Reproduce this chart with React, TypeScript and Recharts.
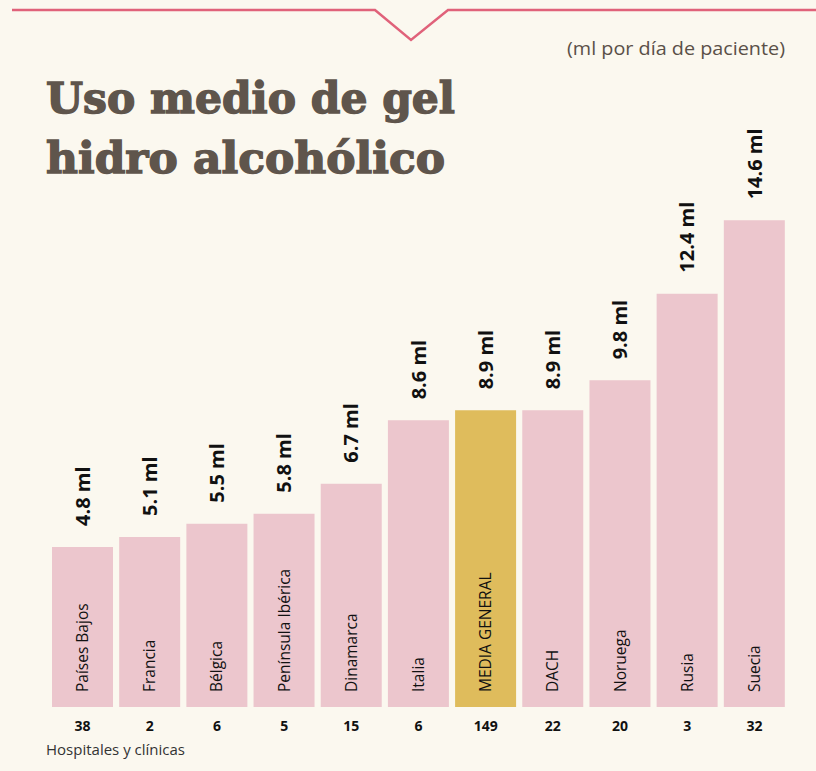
import { Bar, BarChart, Cell, LabelList, XAxis, YAxis } from "recharts";

const regions = [
  "Países Bajos",
  "Francia",
  "Bélgica",
  "Península Ibérica",
  "Dinamarca",
  "Italia",
  "MEDIA GENERAL",
  "DACH",
  "Noruega",
  "Rusia",
  "Suecia",
];
const gelMl = [4.8, 5.1, 5.5, 5.8, 6.7, 8.6, 8.9, 8.9, 9.8, 12.4, 14.6];
const hospitals = [38, 2, 6, 5, 15, 6, 149, 22, 20, 3, 32];
const highlight = "MEDIA GENERAL";

const data = regions.map((region, i) => ({
  region,
  value: gelMl[i],
  hospitals: hospitals[i],
}));

const BG = "#fbf8ef";
const PINK = "#ecc6cd";
const GOLD = "#dfbc5c";
const SANS = "'Open Sans', 'Noto Sans', sans-serif";

function ValueLabel(props: any) {
  const { x, y, width, value } = props;
  const cx = x + width / 2;
  const ty = y - 21;
  return (
    <text
      x={cx}
      y={ty}
      transform={`rotate(-90 ${cx} ${ty})`}
      textAnchor="start"
      dy="0.36em"
      fontFamily={SANS}
      fontWeight={700}
      fontSize={20}
      fill="#111"
    >
      {`${value} ml`}
    </text>
  );
}

function RegionLabel(props: any) {
  const { x, y, width, height, value } = props;
  const cx = x + width / 2;
  const ty = y + height - 15;
  return (
    <text
      x={cx}
      y={ty}
      transform={`rotate(-90 ${cx} ${ty})`}
      textAnchor="start"
      dy="0.36em"
      fontFamily={SANS}
      fontSize={15.5}
      fill="#111"
    >
      {value}
    </text>
  );
}

function HospitalTick(props: any) {
  const { x, y, payload } = props;
  const row = data.find((d) => d.region === payload.value);
  return (
    <text
      x={x}
      y={y}
      dy={16}
      textAnchor="middle"
      fontFamily={SANS}
      fontWeight={700}
      fontSize={14}
      fill="#111"
    >
      {row ? row.hospitals : ""}
    </text>
  );
}

export default function App() {
  return (
    <div
      style={{
        position: "absolute",
        left: 0,
        top: 0,
        width: 816,
        height: 771,
        background: BG,
        overflow: "hidden",
      }}
    >
      <svg
        width={816}
        height={771}
        style={{ position: "absolute", left: 0, top: 0, pointerEvents: "none" }}
      >
        <polyline
          points="12,10 375,10 411,40 448,10 816,10"
          fill="none"
          stroke="#e0627a"
          strokeWidth={2.5}
        />
        <text
          x={785}
          y={55}
          textAnchor="end"
          fontFamily={SANS}
          fontSize={18}
          fill="#5a5048"
          textLength={218}
          lengthAdjust="spacingAndGlyphs"
        >
          (ml por día de paciente)
        </text>
        <text
          x={46}
          y={113}
          fontFamily="'DejaVu Serif', serif"
          fontWeight={700}
          fontSize={42}
          fill="#5f554c"
          stroke="#5f554c"
          strokeWidth={1.4}
          textLength={409}
          lengthAdjust="spacingAndGlyphs"
        >
          Uso medio de gel
        </text>
        <text
          x={46}
          y={173}
          fontFamily="'DejaVu Serif', serif"
          fontWeight={700}
          fontSize={42}
          fill="#5f554c"
          stroke="#5f554c"
          strokeWidth={1.4}
          textLength={399}
          lengthAdjust="spacingAndGlyphs"
        >
          hidro alcohólico
        </text>
        <text x={46} y={755} fontFamily={SANS} fontSize={15} fill="#333">
          Hospitales y clínicas
        </text>
      </svg>
      <div style={{ position: "absolute", left: 0, top: 0 }}>
        <BarChart
          width={816}
          height={771}
          data={data}
          margin={{ top: 207, right: 28, bottom: 34, left: 49 }}
          barCategoryGap={3}
        >
          <XAxis
            dataKey="region"
            axisLine={false}
            tickLine={false}
            height={30}
            interval={0}
            tick={<HospitalTick />}
          />
          <YAxis hide domain={[0, 15]} />
          <Bar dataKey="value" isAnimationActive={false}>
            {data.map((d) => (
              <Cell key={d.region} fill={d.region === highlight ? GOLD : PINK} />
            ))}
            <LabelList dataKey="value" content={<ValueLabel />} />
            <LabelList dataKey="region" content={<RegionLabel />} />
          </Bar>
        </BarChart>
      </div>
    </div>
  );
}
